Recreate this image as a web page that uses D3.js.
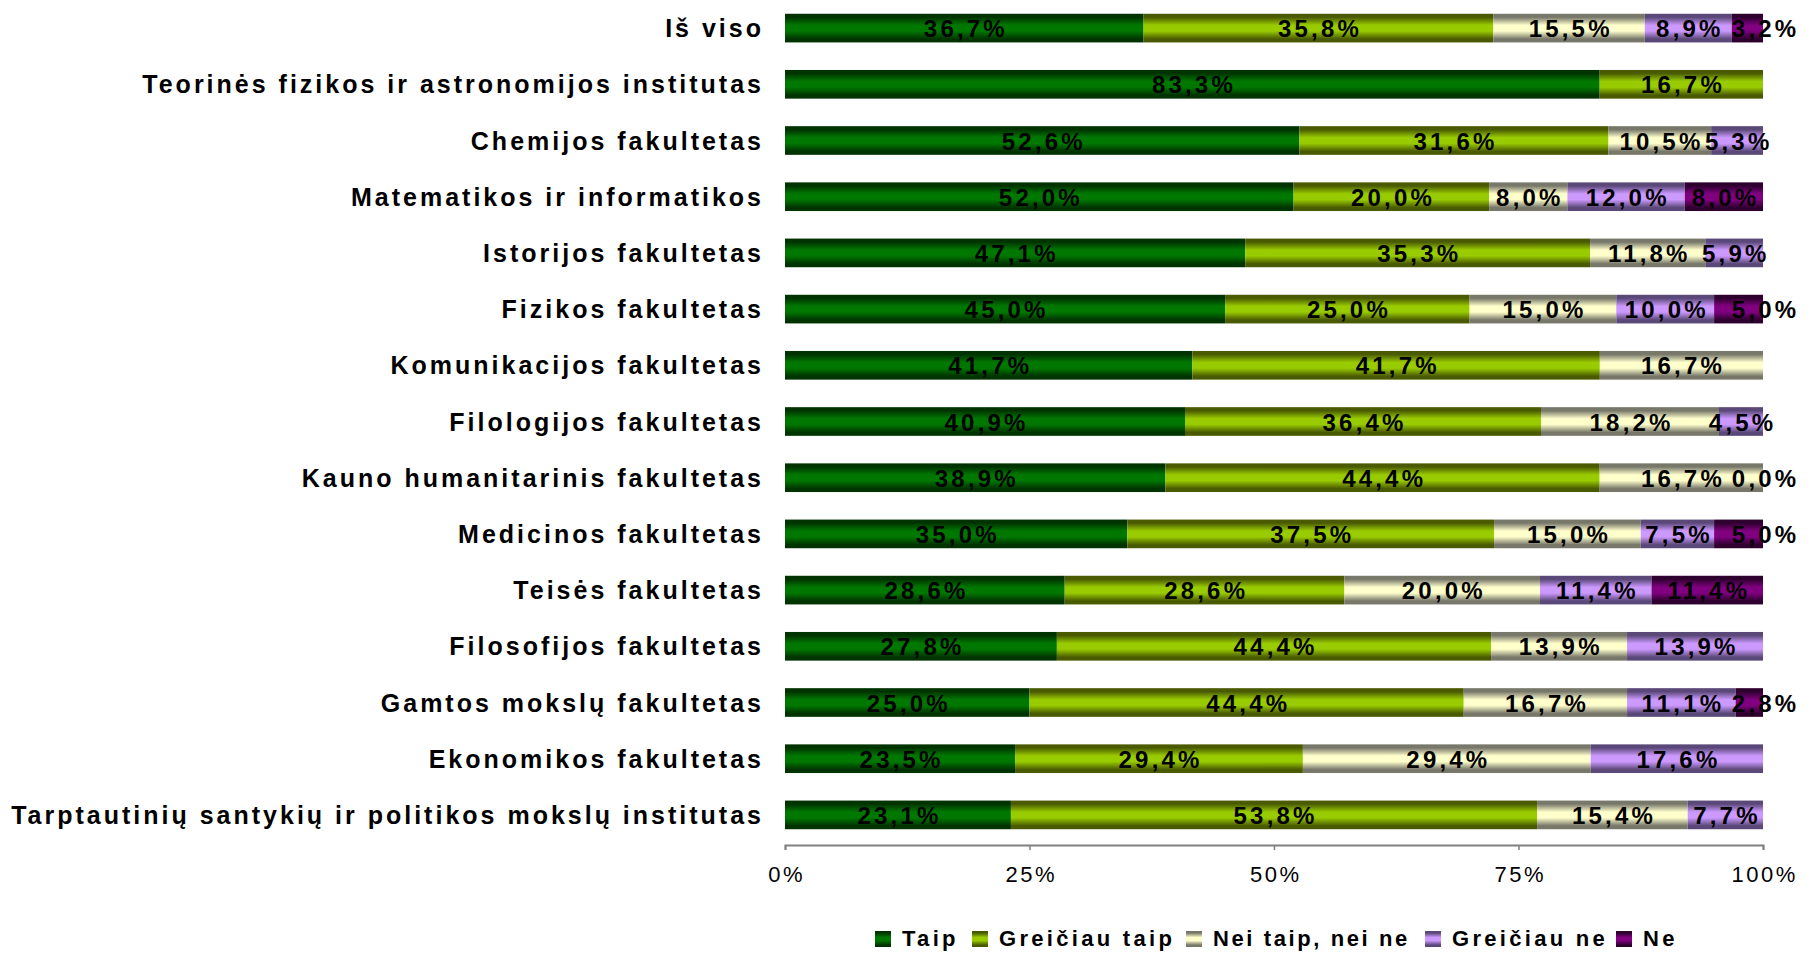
<!DOCTYPE html>
<html>
<head>
<meta charset="utf-8">
<script src="https://cdnjs.cloudflare.com/ajax/libs/d3/7.8.5/d3.min.js"></script>
<style>
body { margin: 0; background: #fff; }
</style>
</head>
<body>
<script>
var w = 1816, h = 953;

var categories = ["Iš viso", "Teorinės fizikos ir astronomijos institutas", "Chemijos fakultetas",
  "Matematikos ir informatikos", "Istorijos fakultetas", "Fizikos fakultetas", "Komunikacijos fakultetas",
  "Filologijos fakultetas", "Kauno humanitarinis fakultetas", "Medicinos fakultetas", "Teisės fakultetas",
  "Filosofijos fakultetas", "Gamtos mokslų fakultetas", "Ekonomikos fakultetas",
  "Tarptautinių santykių ir politikos mokslų institutas"];
var seriesNames = ["Taip", "Greičiau taip", "Nei taip, nei ne", "Greičiau ne", "Ne"];

var taip         = [36.7, 83.3, 52.6, 52.0, 47.1, 45.0, 41.7, 40.9, 38.9, 35.0, 28.6, 27.8, 25.0, 23.5, 23.1];
var greiciauTaip = [35.8, 16.7, 31.6, 20.0, 35.3, 25.0, 41.7, 36.4, 44.4, 37.5, 28.6, 44.4, 44.4, 29.4, 53.8];
var neiTaip      = [15.5, null, 10.5, 8.0, 11.8, 15.0, 16.7, 18.2, 16.7, 15.0, 20.0, 13.9, 16.7, 29.4, 15.4];
var greiciauNe   = [8.9, null, 5.3, 12.0, 5.9, 10.0, null, 4.5, 0.0, 7.5, 11.4, 13.9, 11.1, 17.6, 7.7];
var ne           = [3.2, null, null, 8.0, null, 5.0, null, null, null, 5.0, 11.4, null, 2.8, null, null];

var tickValues = [0, 0.25, 0.5, 0.75, 1];

// edge / centre colours for the shaded bars
var colEdge   = ["#003300", "#4a5a00", "#77776a", "#5a4878", "#2e002e"];
var colCenter = ["#007800", "#99cc00", "#ffffcc", "#cc99ff", "#800080"];

var allSeries = [taip, greiciauTaip, neiTaip, greiciauNe, ne];

var rows = categories.map(function(c, i) {
  var vals = allSeries.map(function(s) { return s[i]; });
  var total = d3.sum(vals, function(v) { return v || 0; });
  var x0 = 0;
  var segs = vals.map(function(v, k) {
    var seg = { k: k, v: v, x0: x0 / total, x1: (x0 + (v || 0)) / total, cat: c };
    x0 += (v || 0);
    return seg;
  });
  return { cat: c, segs: segs };
});

var svg = d3.select("body").append("svg")
  .attr("width", w)
  .attr("height", h)
  .style("font-family", "'Liberation Sans', Arial, sans-serif");

var defs = svg.append("defs");
colCenter.forEach(function(c, k) {
  var g = defs.append("linearGradient").attr("id", "g" + k)
    .attr("x1", 0).attr("y1", 0).attr("x2", 0).attr("y2", 1);
  g.append("stop").attr("offset", "0%").attr("stop-color", colEdge[k]);
  g.append("stop").attr("offset", "12%").attr("stop-color", colEdge[k]);
  g.append("stop").attr("offset", "40%").attr("stop-color", c);
  g.append("stop").attr("offset", "60%").attr("stop-color", c);
  g.append("stop").attr("offset", "88%").attr("stop-color", colEdge[k]);
  g.append("stop").attr("offset", "100%").attr("stop-color", colEdge[k]);
});

var x = d3.scaleLinear().domain([0, 1]).range([785, 1763]);
var y = d3.scaleBand().domain(categories).range([0, 843]).paddingInner(0.49).paddingOuter(0.245);

var rowG = svg.selectAll("g.row").data(rows).enter().append("g").attr("class", "row");

rowG.selectAll("rect")
  .data(function(d) { return d.segs.filter(function(s) { return s.v; }); })
  .enter().append("rect")
  .attr("x", function(d) { return x(d.x0); })
  .attr("y", function(d) { return y(d.cat); })
  .attr("width", function(d) { return x(d.x1) - x(d.x0); })
  .attr("height", y.bandwidth())
  .attr("fill", function(d) { return "url(#g" + d.k + ")"; });

rowG.selectAll("text")
  .data(function(d) { return d.segs.filter(function(s) { return s.v !== null; }); })
  .enter().append("text")
  .attr("x", function(d) {
    var c = (x(d.x0) + x(d.x1)) / 2;
    if ((d.k === 4 && x(d.x1) - x(d.x0) < 60) || d.v === 0) c = x(d.x1) + 1;
    return c + 1.6;
  })
  .attr("y", function(d) { return y(d.cat) + y.bandwidth() / 2 + 9; })
  .attr("text-anchor", "middle")
  .attr("font-size", "24px")
  .attr("font-weight", "bold")
  .attr("letter-spacing", "3.2px")
  .attr("fill", "#000")
  .text(function(d) { return d.v.toFixed(1).replace(".", ",") + "%"; });

// category labels
svg.selectAll("text.cat").data(categories).enter().append("text")
  .attr("class", "cat")
  .attr("x", 764)
  .attr("y", function(d) { return y(d) + y.bandwidth() / 2 + 9; })
  .attr("text-anchor", "end")
  .attr("font-size", "25px")
  .attr("font-weight", "bold")
  .attr("letter-spacing", "3px")
  .text(function(d) { return d; });

// x axis
var axis = svg.append("g").attr("transform", "translate(0,845)")
  .call(d3.axisBottom(x).tickValues(tickValues).tickSize(5).tickPadding(16)
    .tickFormat(function(d) { return Math.round(d * 100) + "%"; }));
axis.select(".domain").attr("stroke", "#808080").attr("stroke-width", 2);
axis.selectAll(".tick line").attr("stroke", "#808080").attr("stroke-width", 1.5);
axis.selectAll(".tick text").attr("font-size", "22px").attr("fill", "#000")
  .attr("letter-spacing", "2.5px").attr("dx", "1.2")
  .attr("font-family", "'Liberation Sans', Arial, sans-serif");

// legend
var legX = [875, 972, 1186, 1425, 1616];
var leg = svg.selectAll("g.leg").data(seriesNames).enter().append("g")
  .attr("class", "leg")
  .attr("transform", function(d, i) { return "translate(" + legX[i] + ",931)"; });
leg.append("rect").attr("width", 16).attr("height", 16)
  .attr("fill", function(d, i) { return "url(#g" + i + ")"; });
leg.append("text").attr("x", 27).attr("y", 15)
  .attr("font-size", "22px").attr("font-weight", "bold")
  .attr("letter-spacing", function(d, i) { return i === 2 ? "2.6px" : "3.3px"; })
  .text(function(d) { return d; });
</script>
</body>
</html>
